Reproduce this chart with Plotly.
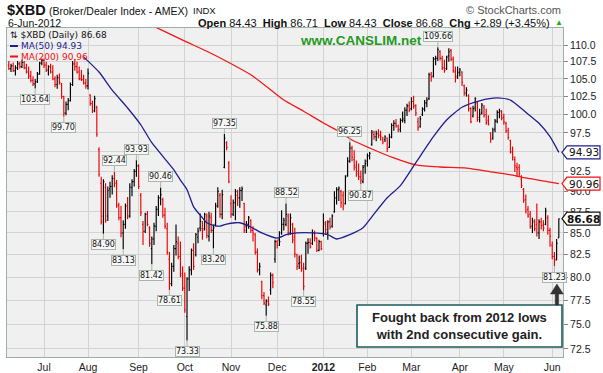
import math
import pandas as pd
import plotly.graph_objects as go

# ---------------- data ----------------
holidays = {"2011-07-04", "2011-09-05", "2011-11-24", "2011-12-26", "2012-01-02",
            "2012-01-16", "2012-02-20", "2012-04-06", "2012-05-28"}
dates = [d.strftime("%Y-%m-%d") for d in pd.bdate_range("2011-06-09", "2012-06-06")
         if d.strftime("%Y-%m-%d") not in holidays]

opens = [
    107.0, 106.5, 106.9, 106.2, 106.6, 107.2, 106.8, 107.4, 106.6, 106.0,
    105.4, 104.8, 104.3, 104.6, 105.7, 107.3,
    107.7, 107.0, 106.3, 106.8, 106.0, 105.0, 104.2, 105.2, 104.3, 102.5,
    100.2, 101.4, 101.9, 104.2, 107.2, 106.8, 106.0, 105.0, 104.9, 104.4,
    104.0, 102.7, 101.5, 100.5, 101.0, 95.3, 91.0, 87.0, 90.5, 87.0,
    90.3, 90.6, 91.6, 91.0, 88.3, 86.8, 85.0, 86.0, 88.2, 87.0,
    90.5, 91.2, 92.5,
    93.2, 89.5, 86.0, 85.2, 87.2, 85.6, 83.2, 84.3, 85.8, 87.8,
    89.2, 89.0, 87.1, 85.5, 82.0, 79.3, 81.2, 83.2, 83.8, 82.3,
    80.2,
    78.8, 75.8, 79.8, 80.8, 83.0, 82.5, 84.5, 85.6, 85.5, 85.5,
    87.0, 84.6, 86.8, 85.3, 86.0, 88.2, 89.5, 87.2, 93.0, 96.2,
    93.6,
    88.5, 87.2, 88.6, 89.5, 89.2, 90.1, 88.5, 85.8, 86.0, 86.5,
    85.3, 84.8, 82.8, 80.8, 79.5, 78.0, 77.0, 77.4, 78.6, 80.2,
    82.0,
    84.0, 84.2, 85.0, 86.0, 86.0, 87.0, 85.0, 86.0, 84.5, 82.5,
    81.5, 81.6, 81.0, 81.0, 83.8, 83.9, 83.8, 85.0, 84.4, 83.0,
    84.0,
    85.0, 86.0, 85.0, 86.3, 85.8, 87.5, 89.2, 90.2, 90.0, 89.5,
    88.5, 92.0, 93.8, 95.5, 94.0, 93.0, 92.5, 91.8, 91.2, 93.2,
    93.8, 94.5, 96.0, 97.3, 97.0, 97.4, 97.2, 96.6, 96.6, 96.8,
    95.6, 97.0, 98.5, 98.8, 98.4, 98.0, 99.2, 99.2, 100.6, 101.2,
    100.8, 101.8, 101.2, 99.0, 98.4, 100.0, 100.8, 101.6, 102.2, 105.6,
    105.4, 107.9, 108.0, 109.0, 108.0, 106.6, 106.5, 108.4, 109.2, 107.9,
    106.0, 105.4,
    106.0, 106.0, 104.0, 103.0, 102.6, 100.8, 99.8, 100.9, 101.6, 99.6,
    100.2, 101.0, 100.0, 99.2, 97.5, 96.8, 98.0, 99.1, 100.3, 100.4,
    99.6, 98.8, 97.8, 96.5, 95.0, 94.0, 93.0, 93.0, 91.5, 90.2,
    89.0, 87.8, 87.2, 85.8, 86.2, 86.0, 85.0, 86.3, 85.9, 86.0,
    86.8, 85.3,
    83.6, 82.3, 81.9, 84.43,
]
highs = [
    107.6, 107.2, 107.4, 107.0, 107.6, 107.5, 107.8, 107.6, 107.2, 106.8,
    106.2, 105.4, 105.0, 106.0, 107.5, 108.0,
    108.0, 107.5, 107.0, 107.2, 107.0, 105.4, 105.6, 105.8, 104.4, 102.6,
    101.8, 102.3, 104.5, 107.6, 107.9, 107.5, 106.8, 106.3, 105.6, 105.0,
    106.5, 102.8, 101.9, 102.6, 101.2, 95.6, 91.8, 91.5, 91.0, 90.6,
    91.2, 92.0, 92.44, 91.4, 88.6, 88.2, 86.5, 88.5, 89.3, 91.0,
    91.5, 92.8, 93.93,
    93.4, 89.8, 86.4, 87.4, 87.6, 85.8, 84.6, 86.2, 88.2, 89.5,
    90.46, 89.2, 88.0, 86.2, 82.8, 81.6, 83.6, 86.0, 84.6, 84.0,
    81.2,
    80.5, 80.0, 81.2, 83.2, 83.8, 85.0, 85.6, 87.3, 86.4, 87.4,
    87.3, 87.5, 87.4, 86.0, 88.6, 90.5, 89.8, 90.2, 97.35, 96.4,
    93.8,
    89.5, 89.0, 90.3, 90.2, 90.5, 90.6, 88.6, 86.4, 87.0, 86.6,
    85.8, 85.0, 83.2, 81.6, 79.6, 78.4, 77.6, 77.9, 80.5, 80.4,
    84.2,
    84.2, 85.2, 87.7, 86.8, 88.52, 87.3, 87.3, 86.2, 85.6, 82.6,
    82.4, 82.5, 81.6, 84.0, 84.4, 84.4, 85.4, 85.3, 84.5, 84.2,
    84.1,
    87.3, 86.4, 86.5, 86.8, 87.2, 90.0, 90.5, 90.6, 90.2, 90.0,
    92.0, 94.3, 96.25, 95.8, 95.2, 93.9, 93.5, 92.6, 93.3, 94.0,
    94.8, 95.0, 97.9, 97.8, 97.8, 98.0, 97.8, 97.0, 97.2, 96.9,
    97.4, 98.8, 99.2, 99.4, 98.6, 99.5, 100.4, 101.0, 101.5, 101.8,
    102.4, 102.6, 101.4, 99.6, 99.8, 101.0, 102.0, 102.4, 105.9, 106.0,
    108.2, 108.4, 109.66, 109.2, 108.4, 107.8, 108.4, 109.5, 109.4, 108.3,
    106.8, 106.8,
    106.6, 106.1, 104.2, 103.8, 102.8, 101.0, 101.2, 102.4, 101.8, 100.8,
    101.6, 101.3, 100.8, 99.9, 97.6, 98.2, 99.4, 100.6, 100.8, 100.6,
    100.1, 99.0, 98.2, 96.6, 95.7, 94.4, 93.6, 93.4, 92.0, 90.4,
    89.6, 88.2, 87.6, 86.8, 86.6, 88.5, 86.6, 86.8, 86.5, 88.0,
    87.1, 85.6,
    84.0, 82.8, 84.3, 86.71,
]
lows = [
    106.3, 106.0, 106.0, 105.5, 106.3, 106.5, 106.6, 106.4, 105.8, 105.0,
    104.5, 104.0, 103.64, 104.4, 105.6, 107.0,
    106.6, 106.0, 105.5, 105.8, 104.8, 103.8, 103.6, 104.2, 102.2, 99.70,
    99.9, 100.6, 101.8, 104.0, 106.2, 105.8, 104.8, 104.7, 104.2, 103.6,
    103.5, 101.2, 100.2, 100.3, 97.0, 91.8, 86.0, 84.90, 86.2, 86.4,
    89.2, 89.6, 90.5, 88.0, 86.5, 84.5, 83.13, 85.5, 86.6, 86.8,
    89.4, 90.6, 91.8,
    90.3, 87.0, 83.6, 85.0, 85.8, 83.4, 81.42, 83.6, 85.2, 87.0,
    88.3, 86.8, 85.5, 82.5, 78.61, 79.0, 80.6, 82.4, 82.0, 80.0,
    78.5,
    76.2, 73.33, 78.5, 80.2, 80.8, 82.3, 83.8, 85.2, 84.2, 85.3,
    84.4, 84.0, 85.0, 83.20, 85.8, 88.0, 86.8, 86.6, 92.9, 95.2,
    91.0,
    86.8, 87.0, 86.5, 88.2, 88.0, 88.8, 85.0, 85.0, 85.5, 85.0,
    84.0, 82.5, 80.5, 80.2, 77.6, 77.0, 75.88, 76.9, 78.1, 78.8,
    81.6,
    83.2, 83.5, 84.8, 85.3, 85.8, 84.7, 84.8, 83.8, 82.2, 80.8,
    80.9, 80.6, 78.55, 80.8, 82.6, 83.2, 83.6, 84.0, 82.8, 82.9,
    83.0,
    84.6, 84.8, 84.2, 85.4, 85.6, 87.4, 88.4, 88.8, 88.0, 87.7,
    88.4, 91.8, 93.6, 93.8, 92.6, 91.8, 91.4, 90.87, 91.0, 92.2,
    93.1, 94.0, 95.8, 96.6, 96.4, 96.8, 96.5, 96.0, 96.3, 95.0,
    95.5, 96.8, 97.8, 98.2, 97.6, 97.6, 98.9, 98.8, 99.8, 100.3,
    100.6, 100.8, 99.8, 97.8, 98.2, 99.8, 100.4, 101.0, 102.0, 104.6,
    105.2, 107.0, 107.6, 107.7, 106.3, 105.9, 106.3, 107.5, 107.6, 105.9,
    104.5, 105.0,
    105.4, 104.0, 102.6, 102.5, 100.4, 98.8, 99.6, 100.4, 99.0, 98.9,
    100.0, 99.6, 98.6, 98.5, 96.2, 96.6, 97.6, 98.8, 99.5, 99.2,
    98.6, 97.5, 96.6, 94.8, 93.9, 92.4, 91.8, 91.8, 90.4, 88.6,
    87.3, 86.8, 85.5, 85.0, 85.2, 84.6, 84.3, 85.4, 85.2, 85.9,
    84.8, 83.4,
    82.0, 81.23, 81.9, 84.43,
]
closes = [
    106.5, 106.9, 106.2, 106.6, 107.2, 106.8, 107.4, 106.6, 106.0, 105.4,
    104.8, 104.3, 104.6, 105.7, 107.3, 107.7,
    107.0, 106.3, 106.8, 106.0, 105.0, 104.2, 105.2, 104.5, 102.5, 100.2,
    101.4, 101.9, 104.2, 107.2, 106.8, 106.0, 105.0, 104.9, 104.4, 104.0,
    105.8, 101.5, 100.5, 102.2, 97.3, 92.1, 86.3, 91.2, 86.5, 90.1,
    90.6, 91.6, 91.0, 88.3, 86.8, 85.0, 86.0, 88.2, 87.0, 90.5,
    91.2, 92.5, 93.2,
    90.6, 87.4, 85.2, 87.2, 86.0, 83.8, 84.3, 85.8, 87.8, 89.2,
    89.6, 87.1, 85.8, 82.8, 79.3, 81.2, 83.2, 84.0, 82.3, 80.4,
    78.8,
    76.5, 79.8, 80.8, 83.0, 81.2, 84.8, 85.2, 86.4, 85.3, 87.2,
    84.7, 87.0, 85.3, 85.6, 88.2, 90.0, 87.2, 89.6, 96.8, 95.6,
    91.2,
    87.2, 88.6, 90.0, 89.2, 90.1, 90.3, 85.3, 86.0, 86.8, 85.3,
    85.0, 82.8, 80.8, 81.2, 78.0, 77.2, 77.4, 77.1, 80.2, 79.4,
    84.0,
    83.6, 84.0, 86.0, 86.5, 87.2, 85.0, 86.8, 84.2, 82.6, 81.2,
    81.6, 80.9, 79.0, 83.8, 83.9, 83.4, 85.0, 84.4, 83.0, 84.0,
    83.2,
    86.2, 85.4, 86.3, 85.7, 87.0, 89.2, 90.2, 90.4, 88.6, 88.2,
    91.8, 93.8, 95.5, 94.3, 93.2, 92.2, 91.8, 91.4, 93.0, 93.5,
    94.5, 94.8, 97.6, 97.0, 97.4, 97.2, 97.0, 96.3, 97.0, 95.4,
    96.9, 98.5, 98.8, 98.5, 97.9, 99.2, 99.4, 100.6, 101.2, 100.6,
    101.8, 101.2, 100.2, 98.2, 99.4, 100.7, 101.6, 102.0, 105.6, 105.3,
    107.9, 108.0, 109.3, 108.0, 106.6, 106.2, 108.2, 109.0, 107.9, 106.2,
    105.2, 105.9,
    106.3, 104.5, 103.0, 103.4, 100.8, 99.0, 100.8, 102.2, 99.3, 100.0,
    101.3, 99.9, 98.9, 98.7, 96.6, 97.9, 99.1, 100.3, 100.5, 99.5,
    99.0, 97.8, 96.9, 95.0, 94.3, 93.2, 92.8, 92.2, 90.7, 88.9,
    87.6, 87.0, 85.7, 86.4, 85.5, 85.0, 86.3, 85.9, 85.6, 87.6,
    85.3, 84.6,
    82.3, 82.0, 83.79, 86.68,
]

ma50_idx = [34, 35, 41, 47, 54, 60, 65, 75, 78, 81, 84, 87, 90, 93, 96, 99, 103, 105,
            110, 115, 122, 126, 131, 138, 145, 149, 155, 161, 165, 172, 178, 185, 193,
            199, 206, 214, 222, 228, 235, 241, 246, 250]
ma50_val = [108.2, 107.9, 106.0, 103.4, 100.9, 98.6, 96.2, 92.7, 91.4, 90.2, 88.1, 87.1,
            86.2, 85.9, 85.8, 86.05, 86.2, 86.2, 85.7, 85.0, 84.4, 84.8, 85.0, 85.0, 84.8,
            84.3, 84.8, 85.6, 86.9, 89.2, 90.7, 93.6, 97.0, 99.25, 101.0, 101.9, 102.3,
            102.0, 100.3, 98.8, 97.0, 94.93]
ma200_idx = [60, 70, 80, 90, 100, 110, 120, 125, 134, 143, 149, 156, 164, 175, 185, 196,
             208, 220, 229, 235, 246, 250]
ma200_val = [113.8, 112.2, 110.6, 109.06, 107.4, 105.6, 103.2, 102.0, 100.44, 98.84,
             97.89, 96.56, 95.51, 94.21, 93.31, 93.05, 92.92, 92.41, 92.03, 91.66,
             91.15, 90.96]

label_idx = [12, 25, 43, 48, 52, 58, 65, 69, 73, 81, 93, 98, 117, 126, 134, 155, 160, 195, 248]
label_val = [103.64, 99.70, 84.90, 92.44, 83.13, 93.93, 81.42, 90.46, 78.61, 73.33, 83.20,
             97.35, 75.88, 88.52, 78.55, 96.25, 90.87, 109.66, 81.23]
label_pos = ["below", "below", "below", "above", "below", "above", "below", "above",
             "below", "below", "below", "above", "below", "above", "below", "above",
             "below", "above", "below"]

month_text = ["Jul", "Aug", "Sep", "Oct", "Nov", "Dec", "<b>2012</b>", "Feb", "Mar",
              "Apr", "May", "Jun"]
y_ticks = [72.5, 75.0, 77.5, 80.0, 82.5, 85.0, 87.5, 90.0, 92.5, 95.0, 97.5, 100.0,
           102.5, 105.0, 107.5, 110.0]
y_hidden = [95.0]  # label covered by the MA(50) tag in the reference

last_close, ma50_last, ma200_last = 86.68, 94.93, 90.96
header_ohlc = dict(Open="84.43", High="86.71", Low="84.43", Close="86.68")
chg_text = "+2.89 (+3.45%)"
note_text = "Fought back from 2012 lows<br>with 2nd consecutive gain."

assert len(dates) == len(closes) == len(opens) == len(highs) == len(lows)
N = len(closes)

# ---------------- geometry helpers ----------------
W, H = 603, 373
PL, PR, PT, PB = 7, 563, 28, 357
Y_LO, Y_HI = 71.70, 112.60
lo, hi = math.log10(Y_LO), math.log10(Y_HI)


def px(x):
    return (x - PL) / (PR - PL)


def py(y):
    return (PB - y) / (PB - PT)


def vy(v):  # value -> paper y
    return (math.log10(v) - lo) / (hi - lo)


ARIAL = "Liberation Sans, Arial, sans-serif"
VERD = "DejaVu Sans, Verdana, sans-serif"

fig = go.Figure()

# moving averages
fig.add_trace(go.Scatter(x=[dates[i] for i in ma200_idx], y=ma200_val, mode="lines",
                         line=dict(color="#f01818", width=1.3, shape="spline", smoothing=0.6),
                         hoverinfo="skip", showlegend=False))
fig.add_trace(go.Scatter(x=[dates[i] for i in ma50_idx], y=ma50_val, mode="lines",
                         line=dict(color="#1f1f90", width=1.3, shape="spline", smoothing=0.6),
                         hoverinfo="skip", showlegend=False))

# bars coloured by close vs previous close
up = [(closes[i] >= closes[i - 1]) if i > 0 else (closes[i] >= opens[i]) for i in range(N)]
for want, col in ((True, "#000000"), (False, "#ee0000")):
    idx = [i for i in range(N) if up[i] == want]
    fig.add_trace(go.Ohlc(
        x=[dates[i] for i in idx], open=[opens[i] for i in idx], high=[highs[i] for i in idx],
        low=[lows[i] for i in idx], close=[closes[i] for i in idx],
        increasing=dict(line=dict(color=col, width=1.15)),
        decreasing=dict(line=dict(color=col, width=1.15)),
        tickwidth=0.45, hoverinfo="skip", showlegend=False))

# month ticks
seen, firsts = set(), []
for d in dates:
    if d[:7] not in seen:
        seen.add(d[:7])
        firsts.append(d)
firsts = firsts[1:]

annotations = []
shapes = []

# high / low value labels
for i, v, pos in zip(label_idx, label_val, label_pos):
    annotations.append(dict(
        x=dates[i], y=math.log10(v), xref="x", yref="y", text=f"{v:.2f}",
        showarrow=True, arrowhead=0, arrowwidth=1, arrowcolor="#a6b6aa", ax=0,
        ay=11 if pos == "below" else -11, standoff=0,
        font=dict(family=VERD, size=8, color="#111"), bgcolor="#f7f7f7",
        bordercolor="#a6b6aa", borderwidth=1, borderpad=0))

# legend inside plot
annotations += [
    dict(x=px(8), y=py(35), xref="paper", yref="paper", xanchor="left", yanchor="middle",
         text="⇅ $XBD (Daily) " + f"{last_close:.2f}", showarrow=False,
         font=dict(family=VERD, size=9, color="#111")),
    dict(x=px(19), y=py(46), xref="paper", yref="paper", xanchor="left", yanchor="middle",
         text=f"MA(50) {ma50_last:.2f}", showarrow=False,
         font=dict(family=VERD, size=9, color="#1f1f90")),
    dict(x=px(19), y=py(56.5), xref="paper", yref="paper", xanchor="left", yanchor="middle",
         text=f"MA(200) {ma200_last:.2f}", showarrow=False,
         font=dict(family=VERD, size=9, color="#ee1111")),
]
shapes += [
    dict(type="line", xref="paper", yref="paper", x0=px(10), x1=px(18), y0=py(46), y1=py(46),
         line=dict(color="#1f1f90", width=2)),
    dict(type="line", xref="paper", yref="paper", x0=px(10), x1=px(18), y0=py(56.5), y1=py(56.5),
         line=dict(color="#ee1111", width=2)),
]

# header
annotations += [
    dict(x=px(5), y=py(10), xref="paper", yref="paper", xanchor="left", yanchor="middle",
         text="<b>$XBD</b>", showarrow=False, font=dict(family=ARIAL, size=14.5, color="#111")),
    dict(x=px(47), y=py(10.5), xref="paper", yref="paper", xanchor="left", yanchor="middle",
         text="(Broker/Dealer Index - AMEX)", showarrow=False,
         font=dict(family=ARIAL, size=10.5, color="#111")),
    dict(x=px(191), y=py(11), xref="paper", yref="paper", xanchor="left", yanchor="middle",
         text="INDX", showarrow=False, font=dict(family=ARIAL, size=9.5, color="#111")),
    dict(x=px(6), y=py(23), xref="paper", yref="paper", xanchor="left", yanchor="middle",
         text="6-Jun-2012", showarrow=False, font=dict(family=ARIAL, size=10.5, color="#111")),
    dict(x=px(552), y=py(23), xref="paper", yref="paper", xanchor="right", yanchor="middle",
         text="\u00a0\u00a0".join(f"<b>{k}</b> {v}" for k, v in header_ohlc.items())
              + f"\u00a0\u00a0<b>Chg</b> {chg_text}",
         showarrow=False, font=dict(family=ARIAL, size=11, color="#111")),
    dict(x=px(559), y=py(22.5), xref="paper", yref="paper", xanchor="center", yanchor="middle",
         text="▲", showarrow=False, font=dict(family=ARIAL, size=8, color="#22aa22")),
    dict(x=px(563), y=py(10), xref="paper", yref="paper", xanchor="right", yanchor="middle",
         text="© StockCharts.com", showarrow=False, font=dict(family=ARIAL, size=11, color="#555")),
    dict(x=px(298), y=py(41), xref="paper", yref="paper", xanchor="left", yanchor="middle",
         text="<b>www.CANSLIM.net</b>", showarrow=False,
         font=dict(family=ARIAL, size=13.5, color="#239a23")),
]

# right axis value tags
for v, col, bold in ((ma50_last, "#1f1f90", False), (ma200_last, "#ee1111", False),
                     (last_close, "#111111", True)):
    yc = vy(v)
    dy = 6.5 / (PB - PT)
    xl, xb, xr = px(562), px(567), px(600)
    shapes.append(dict(type="path", xref="paper", yref="paper",
                       path=f"M {xl} {yc} L {xb} {yc + dy} L {xr} {yc + dy} L {xr} {yc - dy} "
                            f"L {xb} {yc - dy} Z",
                       fillcolor="white", line=dict(color=col, width=1.2)))
    annotations.append(dict(x=px(583.5), y=yc, xref="paper", yref="paper", xanchor="center",
                            yanchor="middle", showarrow=False,
                            text=(f"<b>{v:.2f}</b>" if bold else f"{v:.2f}"),
                            font=dict(family=VERD, size=10.5, color="#111")))

# comment box and arrow
shapes.append(dict(type="rect", xref="paper", yref="paper", x0=px(357), x1=px(562),
                   y0=py(347), y1=py(305), fillcolor="white",
                   line=dict(color="#1d5b5b", width=1.6)))
annotations.append(dict(x=px(459.5), y=py(326), xref="paper", yref="paper", xanchor="center",
                        yanchor="middle", showarrow=False, text=f"<b>{note_text}</b>",
                        align="center", font=dict(family=ARIAL, size=13, color="#222")))
shapes.append(dict(type="path", xref="paper", yref="paper",
                   path=f"M {px(555.2)} {py(305)} L {px(555.2)} {py(294)} L {px(550.5)} {py(294)} "
                        f"L {px(556.9)} {py(284)} L {px(563.3)} {py(294)} L {px(558.6)} {py(294)} "
                        f"L {px(558.6)} {py(305)} Z",
                   fillcolor="#333333", line=dict(color="#333333", width=0.5)))

fig.update_layout(
    width=W, height=H, margin=dict(l=PL, r=W - PR, t=PT, b=H - PB, autoexpand=False),
    paper_bgcolor="white", plot_bgcolor="#f0f0f0", showlegend=False,
    font=dict(family=ARIAL, size=11, color="#222"),
    annotations=annotations, shapes=shapes,
)
fig.update_xaxes(type="category", categoryorder="array", categoryarray=dates,
                 range=[-0.82, 251.9], tickmode="array", tickvals=firsts, ticktext=month_text,
                 showgrid=True, gridcolor="#d3d3d3", gridwidth=1, showline=True,
                 linecolor="#9cb0a6", linewidth=1, mirror=True, ticks="", automargin=False,
                 rangeslider=dict(visible=False), zeroline=False,
                 tickfont=dict(family=ARIAL, size=10.5, color="#222"))
fig.update_yaxes(type="log", range=[lo, hi], side="right", tickmode="array",
                 tickvals=y_ticks,
                 ticktext=["" if v in y_hidden else f"{v:.1f}" for v in y_ticks],
                 showgrid=True, gridcolor="#d3d3d3", gridwidth=1, showline=True,
                 linecolor="#9cb0a6", linewidth=1, mirror=True, ticks="outside", ticklen=4,
                 tickcolor="#888", zeroline=False, automargin=False,
                 tickfont=dict(family=ARIAL, size=10.5, color="#222"))

fig.write_html("out.html", config={"displayModeBar": False},
               post_script="document.body.style.margin='0';document.body.style.padding='0';")
